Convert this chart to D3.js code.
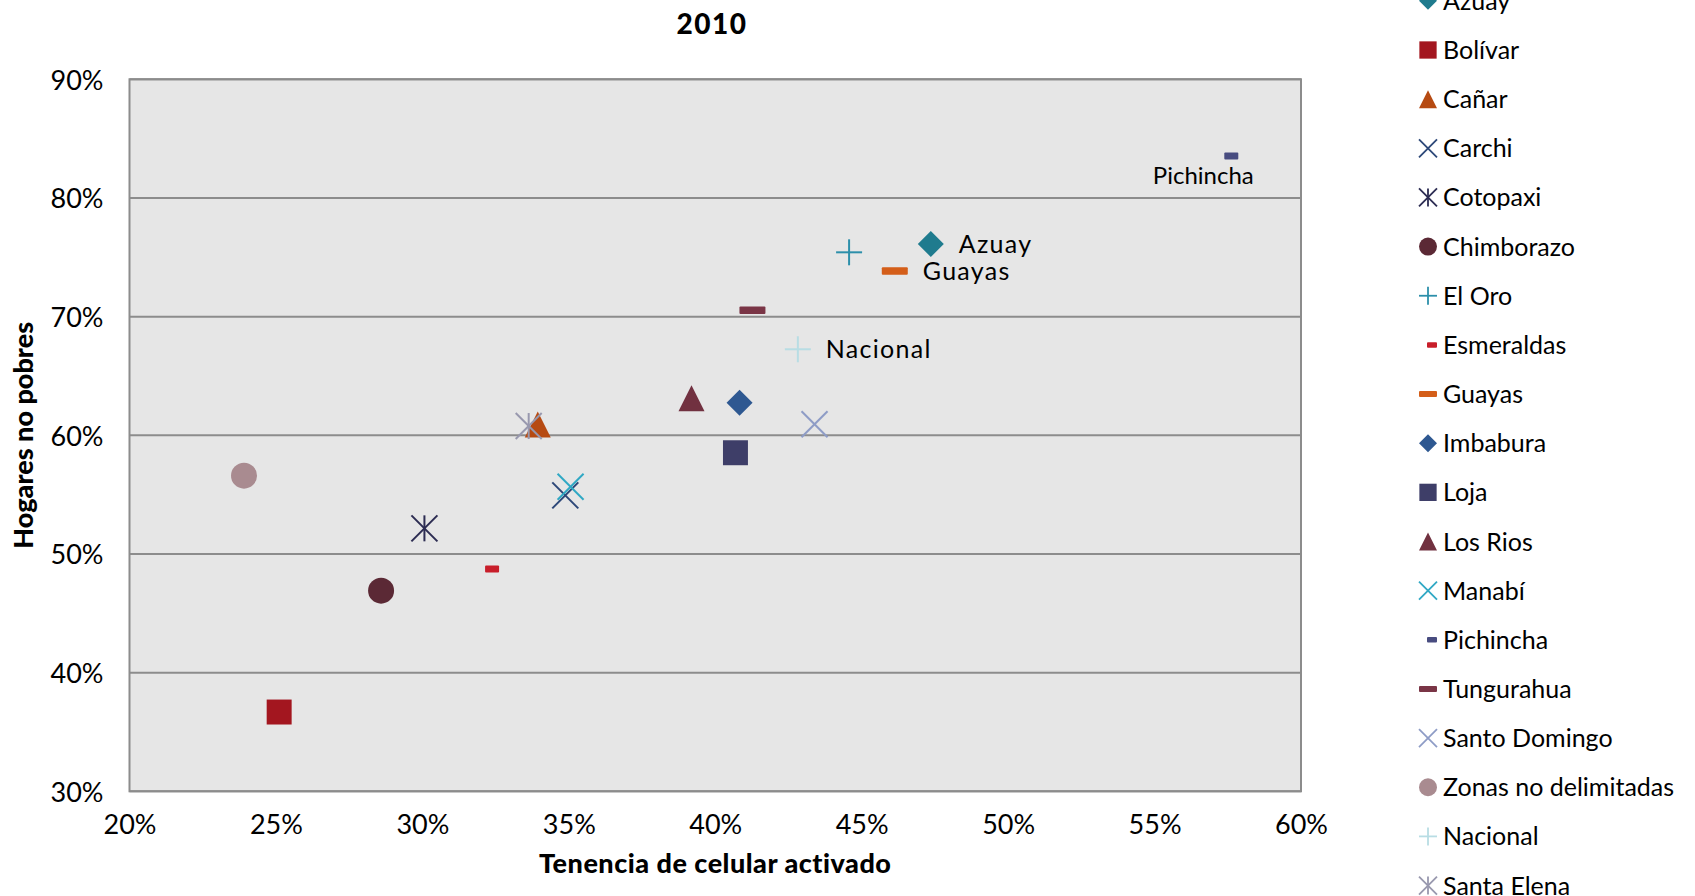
<!DOCTYPE html>
<html>
<head>
<meta charset="utf-8">
<script src="https://cdn.jsdelivr.net/npm/d3@7/dist/d3.min.js"></script>
<style>
  html, body { margin: 0; padding: 0; background: #ffffff; }
  svg { display: block; }
  text { font-family: Lato, "Noto Sans", sans-serif; fill: #000; }
</style>
</head>
<body>
<svg id="chart" width="1695" height="896"></svg>
<script>
// ---------- DATA ----------
const categories = ["Azuay", "Bolívar", "Cañar", "Carchi", "Cotopaxi", "Chimborazo", "El Oro",
  "Esmeraldas", "Guayas", "Imbabura", "Loja", "Los Rios", "Manabí", "Pichincha", "Tungurahua",
  "Santo Domingo", "Zonas no delimitadas", "Nacional", "Santa Elena"];
// Tenencia de celular activado (%)
const xValues = [47.36, 25.11, 33.94, 34.88, 30.07, 28.59, 44.57, 32.38, 46.13, 40.83, 40.69,
  39.19, 35.06, 57.62, 41.27, 43.39, 23.91, 42.82, 33.63];
// Hogares no pobres (%)
const yValues = [76.12, 36.68, 60.91, 54.94, 52.16, 46.91, 75.42, 48.73, 73.85, 62.75, 58.53,
  63.12, 55.67, 83.54, 70.53, 60.93, 56.60, 67.25, 60.78];
const labeledPoints = ["Pichincha", "Azuay", "Guayas", "Nacional"];
const xTicks = [20, 25, 30, 35, 40, 45, 50, 55, 60];
const yTicks = [30, 40, 50, 60, 70, 80, 90];
const chartTitle = "2010";
const xTitle = "Tenencia de celular activado";
const yTitle = "Hogares no pobres";

// ---------- STYLE ----------
const markerColor = {
  "Azuay": "#1F7B8E", "Bolívar": "#A3161F", "Cañar": "#B64A12", "Carchi": "#2C4778",
  "Cotopaxi": "#2C2C52", "Chimborazo": "#5B2935", "El Oro": "#2C8FAA", "Esmeraldas": "#C81E2A",
  "Guayas": "#D45E19", "Imbabura": "#2E5891", "Loja": "#3E3E68", "Los Rios": "#713140",
  "Manabí": "#2FA8C4", "Pichincha": "#484C80", "Tungurahua": "#7A3546",
  "Santo Domingo": "#8E9CC6", "Zonas no delimitadas": "#A98B90", "Nacional": "#B8DDE4",
  "Santa Elena": "#9898AE"
};
const markerShape = {
  "Azuay": "diamond", "Bolívar": "square", "Cañar": "triangle", "Carchi": "x",
  "Cotopaxi": "star", "Chimborazo": "circle", "El Oro": "plus", "Esmeraldas": "shortdash",
  "Guayas": "dash", "Imbabura": "diamond", "Loja": "square", "Los Rios": "triangle",
  "Manabí": "x", "Pichincha": "shortdash", "Tungurahua": "dash", "Santo Domingo": "x",
  "Zonas no delimitadas": "circle", "Nacional": "plus", "Santa Elena": "star"
};

const svg = d3.select("#chart");
const plot = { left: 129.5, right: 1301, top: 79.3, bottom: 791.3 };
const plotCx = (plot.left + plot.right) / 2, plotCy = (plot.top + plot.bottom) / 2;

const x = d3.scaleLinear().domain([20, 60]).range([plot.left, plot.right]);
const y = d3.scaleLinear().domain([30, 90]).range([plot.bottom, plot.top]);

// background
svg.append("rect")
  .attr("x", plot.left).attr("y", plot.top)
  .attr("width", plot.right - plot.left).attr("height", plot.bottom - plot.top)
  .attr("fill", "#E6E6E6");

// gridlines
svg.append("g").selectAll("line").data(yTicks).join("line")
  .attr("x1", plot.left).attr("x2", plot.right)
  .attr("y1", d => y(d)).attr("y2", d => y(d))
  .attr("stroke", "#8C8C8C").attr("stroke-width", 2);

// border
svg.append("rect")
  .attr("x", plot.left).attr("y", plot.top)
  .attr("width", plot.right - plot.left).attr("height", plot.bottom - plot.top)
  .attr("fill", "none").attr("stroke", "#8C8C8C").attr("stroke-width", 2);

// axes (labels only)
const fmt = d => d + "%";
const xAxis = svg.append("g")
  .attr("transform", `translate(0,${plot.bottom})`)
  .call(d3.axisBottom(x).tickValues(xTicks).tickFormat(fmt).tickSize(0).tickPadding(31));
xAxis.select(".domain").remove();
xAxis.selectAll("text").attr("font-size", 27).attr("font-family", "Lato").attr("dy", "0.45em");

const yAxis = svg.append("g")
  .attr("transform", `translate(${plot.left},0)`)
  .call(d3.axisLeft(y).tickValues(yTicks).tickFormat(fmt).tickSize(0).tickPadding(26));
yAxis.select(".domain").remove();
yAxis.selectAll("text").attr("font-size", 27).attr("font-family", "Lato").attr("dy", "0.36em");

// titles
svg.append("text").attr("x", 712).attr("y", 34)
  .attr("text-anchor", "middle").attr("font-size", 28).attr("font-weight", 900)
  .attr("letter-spacing", 1.5)
  .text(chartTitle);
svg.append("text").attr("x", plotCx).attr("y", 873)
  .attr("text-anchor", "middle").attr("font-size", 27).attr("font-weight", 900)
  .attr("letter-spacing", 0.5)
  .text(xTitle);
svg.append("text").attr("transform", `translate(33,${plotCy}) rotate(-90)`)
  .attr("text-anchor", "middle").attr("font-size", 27).attr("font-weight", 900)
  .text(yTitle);

// marker drawing
function drawMarker(g, shape, color, s, legend) {
  const h = s / 2;
  if (shape === "diamond") {
    g.append("path").attr("d", `M0,${-h}L${h},0L0,${h}L${-h},0Z`).attr("fill", color);
  } else if (shape === "square") {
    const q = s * 0.96;
    g.append("rect").attr("x", -q / 2).attr("y", -q / 2).attr("width", q).attr("height", q)
      .attr("fill", color);
  } else if (shape === "triangle") {
    g.append("path").attr("d", `M0,${-h}L${h},${h}L${-h},${h}Z`).attr("fill", color);
  } else if (shape === "circle") {
    g.append("circle").attr("r", h).attr("fill", color);
  } else if (shape === "x" || shape === "star" || shape === "plus") {
    const sw = legend ? 1.8 : 2;
    const segs = [];
    if (shape !== "plus") {
      segs.push([-h, -h, h, h], [-h, h, h, -h]);
    }
    if (shape === "star") segs.push([0, -h, 0, h]);
    if (shape === "plus") segs.push([-h, 0, h, 0], [0, -h, 0, h]);
    g.selectAll("line.seg").data(segs).join("line").attr("class", "seg")
      .attr("x1", d => d[0]).attr("y1", d => d[1]).attr("x2", d => d[2]).attr("y2", d => d[3])
      .attr("stroke", color).attr("stroke-width", sw);
  } else if (shape === "dash") {
    const dh = legend ? 6 : 7.5;
    g.append("rect").attr("x", -h).attr("y", -dh / 2).attr("width", s).attr("height", dh)
      .attr("rx", 1).attr("fill", color);
  } else if (shape === "shortdash") {
    const dw = legend ? 10 : 14, dh = legend ? 5.5 : 7;
    const cx = legend ? h - dw / 2 : 0;
    g.append("rect").attr("x", cx - dw / 2).attr("y", -dh / 2).attr("width", dw).attr("height", dh)
      .attr("rx", 1).attr("fill", color);
  }
}

// points
const points = categories.map((c, i) => ({ name: c, xv: xValues[i], yv: yValues[i] }));
const pts = svg.append("g").selectAll("g").data(points).join("g")
  .attr("transform", d => `translate(${x(d.xv)},${y(d.yv)})`);
pts.each(function (d) {
  drawMarker(d3.select(this), markerShape[d.name], markerColor[d.name], 26, false);
});

// data labels
const labelG = svg.append("g");
points.filter(d => labeledPoints.includes(d.name)).forEach(d => {
  const t = labelG.append("text").text(d.name);
  if (d.name === "Pichincha") {
    t.attr("font-size", 24).attr("x", x(d.xv) - 28).attr("y", y(d.yv) + 28)
      .attr("text-anchor", "middle");
  } else {
    t.attr("font-size", 25).attr("letter-spacing", 1.3)
      .attr("x", x(d.xv) + 28).attr("y", y(d.yv) + 9).attr("text-anchor", "start");
  }
});

// legend
const legendTop = 0.85, legendStep = 49.15, legendMarkerX = 1428, legendTextX = 1443;
const leg = svg.append("g").selectAll("g").data(categories).join("g")
  .attr("transform", (d, i) => `translate(${legendMarkerX},${legendTop + i * legendStep})`);
leg.each(function (d) {
  drawMarker(d3.select(this), markerShape[d], markerColor[d], 18, true);
});
leg.append("text").attr("x", legendTextX - legendMarkerX).attr("y", 9)
  .attr("font-size", 25).text(d => d);
</script>
</body>
</html>
